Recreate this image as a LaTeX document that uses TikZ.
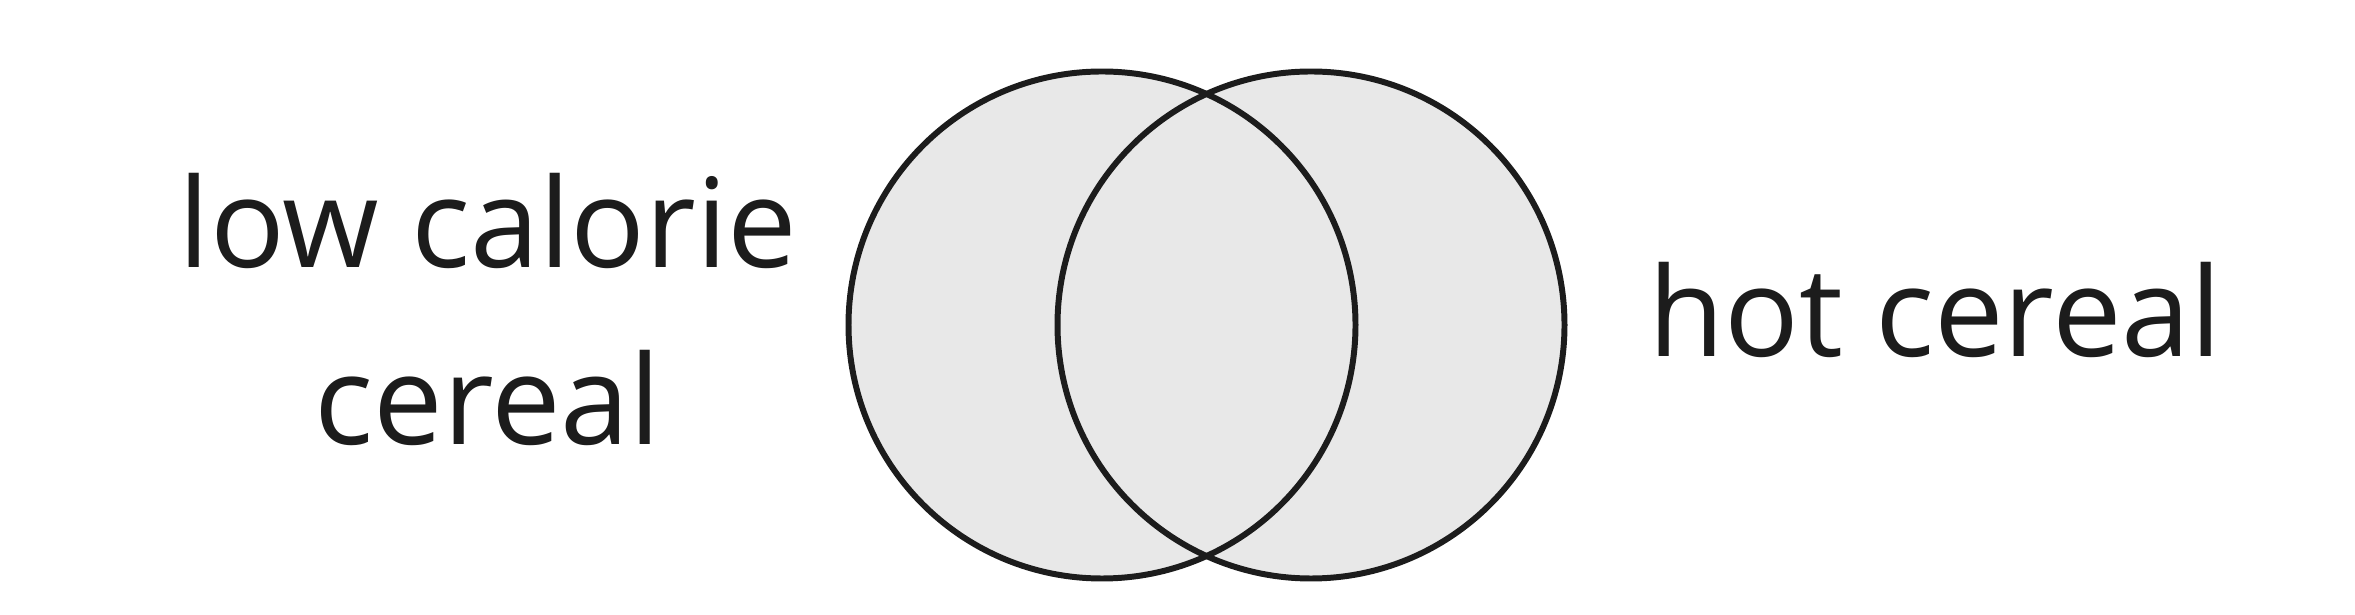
\documentclass[tikz,border=0pt]{standalone}
\usepackage{fontspec}
\setmainfont{Open Sans}
\definecolor{ink}{HTML}{1C1C1C}
\definecolor{vennfill}{HTML}{E8E8E8}
\tikzset{
  setcircle/.style={draw=ink, line width=1.7pt},
  label/.style={text=ink, inner sep=0pt, anchor=base, font=\fontsize{35.3}{42}\selectfont}
}
\begin{document}
\begin{tikzpicture}
\useasboundingbox[fill=white] (0,0) rectangle (23.55,6.15);
\fill[vennfill] (11.02,2.90) circle (2.535);
\fill[vennfill] (13.11,2.90) circle (2.535);
\draw[setcircle] (11.02,2.90) circle (2.535);
\draw[setcircle] (13.11,2.90) circle (2.535);
\node[label] (low1) at (4.88,3.47) {low calorie};
\node[label] (low2) at (4.88,1.70) {cereal};
\node[label] (hot) at (19.35,2.58) {hot cereal};
\end{tikzpicture}
\end{document}
